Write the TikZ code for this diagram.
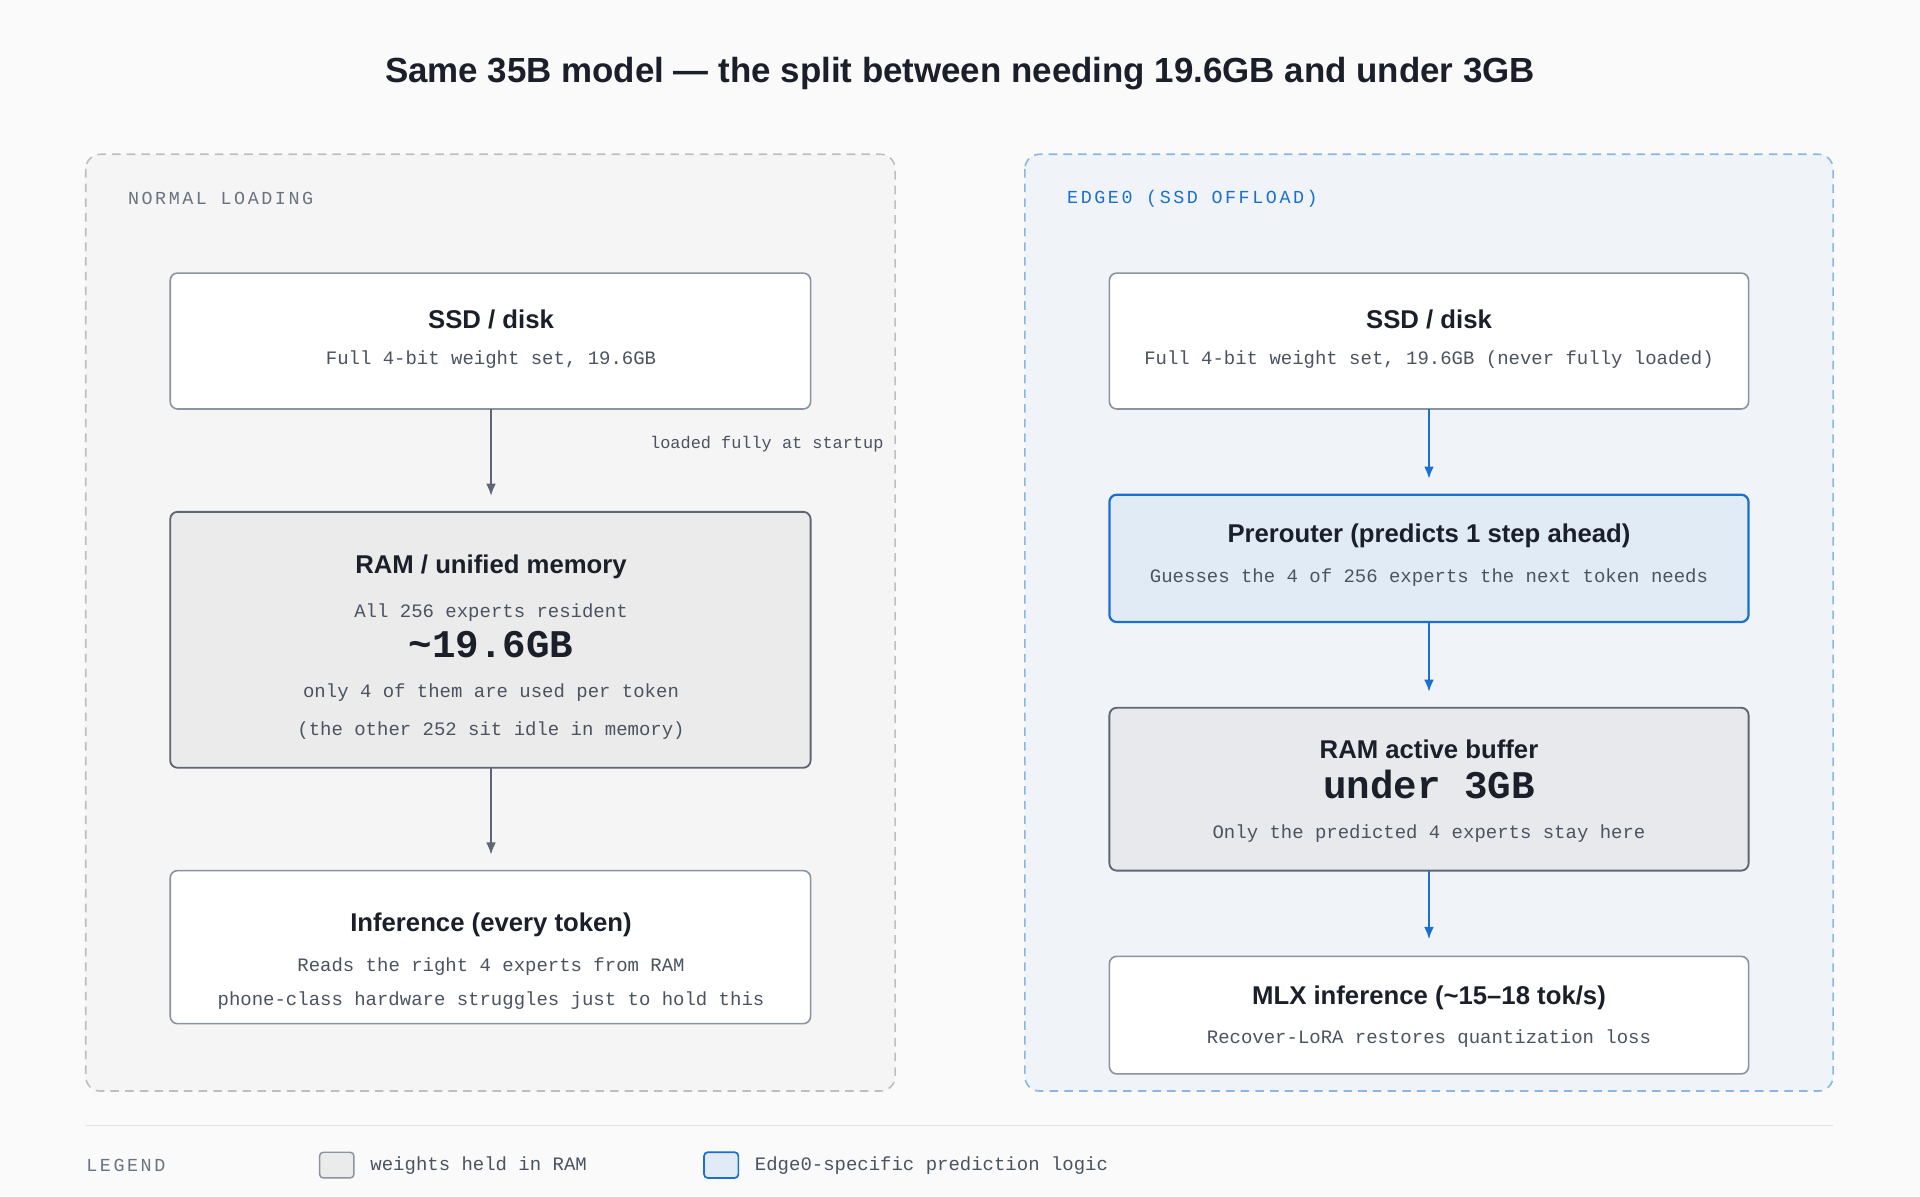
\documentclass[tikz,border=0pt]{standalone}
\usetikzlibrary{arrows.meta}
\usepackage{fontspec}
\setmainfont{Liberation Sans}
\setsansfont{Liberation Sans}
\setmonofont{Liberation Mono}
\newfontfamily\spaced[LetterSpace=14]{Liberation Mono}
\begin{document}
\begin{tikzpicture}[x=1pt,y=-1pt,
  box/.style={draw=bordergray,line width=1.3pt,rounded corners=6pt,fill=white},
  ram/.style={draw=darkborder,line width=1.5pt,rounded corners=6pt,fill=ramgray},
  pre/.style={draw=blueline,line width=1.8pt,rounded corners=6pt,fill=prefill},
  ttl/.style={font=\fontsize{21}{24}\selectfont\bfseries,text=inkdark},
  sub/.style={font=\fontsize{15.5}{18}\selectfont\ttfamily,text=subgray},
  big/.style={font=\fontsize{32}{36}\selectfont\ttfamily\bfseries,text=inkdark},
  garrow/.style={draw=arrowgray,line width=1.5pt,-{Latex[length=10pt,width=8pt]}},
  barrow/.style={draw=blueline,line width=1.5pt,-{Latex[length=10pt,width=8pt]}},
  panel/.style={dashed,dash pattern=on 7pt off 5pt,line width=1.3pt,rounded corners=12pt}]
\definecolor{bg}{HTML}{FAFAFA}
\definecolor{inkdark}{HTML}{1B1F2A}
\definecolor{subgray}{HTML}{4B5360}
\definecolor{bordergray}{HTML}{8A93A0}
\definecolor{darkborder}{HTML}{5F6673}
\definecolor{ramgray}{HTML}{EBEBEB}
\definecolor{ramgray2}{HTML}{E7E9ED}
\definecolor{prefill}{HTML}{E1EBF5}
\definecolor{blueline}{HTML}{1A6FD1}
\definecolor{arrowgray}{HTML}{5F6673}
\definecolor{panelL}{HTML}{F5F5F5}
\definecolor{panelR}{HTML}{F0F4F8}
\definecolor{dashL}{HTML}{BFBFBF}
\definecolor{dashR}{HTML}{8AB6E3}
\definecolor{lblgray}{HTML}{6B7280}
\useasboundingbox (0,0) rectangle (1568,977);
\fill[bg] (0,0) rectangle (1568,977);
\node[font=\fontsize{28.5}{31}\selectfont\bfseries,text=inkdark] (title) at (784,60) {Same 35B model — the split between needing 19.6GB and under 3GB};
% panels
\draw[panel,draw=dashL,fill=panelL] (70,126) rectangle (731,891);
\draw[panel,draw=dashR,fill=panelR] (837,126) rectangle (1497,891);
\node[anchor=west,font=\fontsize{15}{16}\spaced,text=lblgray] (lh) at (101,162) {NORMAL LOADING};
\node[anchor=west,font=\fontsize{15}{16}\spaced,text=blueline] (rh) at (868,162) {EDGE0 (SSD OFFLOAD)};
% left
\draw[box] (139,223) rectangle (662,334);
\node[ttl] (lssd) at (401,261) {SSD / disk};
\node[sub] at (401,294) {Full 4-bit weight set, 19.6GB};
\coordinate (lssdb) at (401,334);
\draw[ram] (139,418) rectangle (662,627);
\node[ttl] (lram) at (401,463) {RAM / unified memory};
\node[sub] at (401,500) {All 256 experts resident};
\node[big] at (401,526) {\textasciitilde19.6GB};
\node[sub] at (401,566) {only 4 of them are used per token};
\node[sub] at (401,597) {(the other 252 sit idle in memory)};
\coordinate (lramt) at (401,405);
\coordinate (lramb) at (401,627);
\draw[box] (139,711) rectangle (662,836);
\node[ttl] (linf) at (401,755) {Inference (every token)};
\node[sub] at (401,789) {Reads the right 4 experts from RAM};
\node[sub] at (401,817) {phone-class hardware struggles just to hold this};
\coordinate (linft) at (401,698);
\draw[garrow] (lssdb) -- (lramt);
\draw[garrow] (lramb) -- (linft);
\node[anchor=east,font=\fontsize{13.8}{15}\ttfamily,text=subgray] (lbl) at (725,363) {loaded fully at startup};
% right
\draw[box] (906,223) rectangle (1428,334);
\node[ttl] (rssd) at (1167,261) {SSD / disk};
\node[sub] at (1167,294) {Full 4-bit weight set, 19.6GB (never fully loaded)};
\draw[pre] (906,404) rectangle (1428,508);
\node[ttl] (rpre) at (1167,438) {Prerouter (predicts 1 step ahead)};
\node[sub] at (1167,472) {Guesses the 4 of 256 experts the next token needs};
\draw[ram,fill=ramgray2] (906,578) rectangle (1428,711);
\node[ttl] (rram) at (1167,612) {RAM active buffer};
\node[big] at (1167,641) {under 3GB};
\node[sub] at (1167,681) {Only the predicted 4 experts stay here};
\draw[box] (906,781) rectangle (1428,877);
\node[ttl] (rmlx) at (1167,815) {MLX inference (\textasciitilde15–18 tok/s)};
\node[sub] at (1167,848) {Recover-LoRA restores quantization loss};
\coordinate (a1) at (1167,334); \coordinate (a1e) at (1167,391);
\coordinate (a2) at (1167,509); \coordinate (a2e) at (1167,565);
\coordinate (a3) at (1167,711); \coordinate (a3e) at (1167,767);
\draw[barrow] (a1) -- (a1e);
\draw[barrow] (a2) -- (a2e);
\draw[barrow] (a3) -- (a3e);
% legend
\draw[draw=black!12,line width=1.3pt] (70,919) -- (1497,919);
\node[anchor=west,font=\fontsize{15}{16}\spaced,text=lblgray] (leg) at (67,952) {LEGEND};
\draw[draw=bordergray,fill=ramgray,line width=1.2pt,rounded corners=3pt] (261,941) rectangle (289,962);
\node[anchor=west,font=\fontsize{15.5}{17}\ttfamily,text=subgray] (l1) at (299,952) {weights held in RAM};
\draw[draw=blueline,fill=prefill,line width=1.4pt,rounded corners=3pt] (575,941) rectangle (603,962);
\node[anchor=west,font=\fontsize{15.5}{17}\ttfamily,text=subgray] (l2) at (613,952) {Edge0-specific prediction logic};
\end{tikzpicture}
\end{document}
